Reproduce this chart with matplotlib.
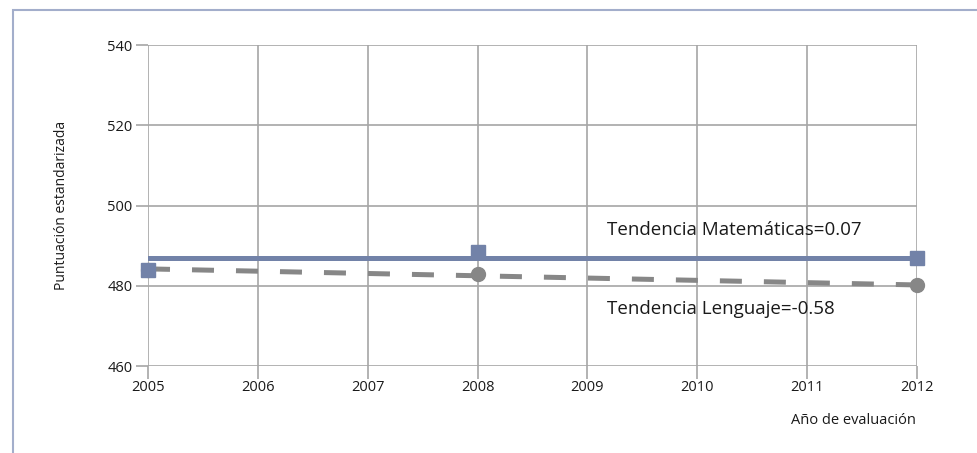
import matplotlib
matplotlib.use("Agg")
import matplotlib.pyplot as plt
from matplotlib.patches import Rectangle

plt.rcParams['font.family'] = ['Open Sans', 'DejaVu Sans']

years = [2005, 2006, 2007, 2008, 2009, 2010, 2011, 2012]
mat_years = [2005, 2008, 2012]
mat_values = [483.9, 488.5, 486.9]
len_years = [2005, 2008, 2012]
len_values = [483.9, 482.9, 480.3]
trend_years = [2005, 2012]
mat_trend = [487.0, 487.0]
len_trend = [484.2, 480.2]
mat_label = "Tendencia Matemáticas=0.07"
len_label = "Tendencia Lenguaje=-0.58"

mat_color = '#7282a8'
len_color = '#878787'
grid_color = '#a6a6a6'

fig = plt.figure(figsize=(9.78, 4.53), dpi=100)
# outer frame
fig.patches.append(Rectangle((13/978, -0.1), 1.2, (453-10)/453 + 0.1,
                             transform=fig.transFigure, fill=False,
                             edgecolor='#a3aecb', linewidth=1.5, clip_on=False))

ax = fig.add_axes([148/978, (453-366)/453, (917-148)/978, (366-45)/453])
ax.set_xlim(2005, 2012)
ax.set_ylim(460, 540)
ax.set_xticks(years)
ax.set_yticks([460, 480, 500, 520, 540])
ax.grid(True, color=grid_color, linewidth=1.2)
for s in ax.spines.values():
    s.set_visible(False)
ax.tick_params(axis='both', color=grid_color, length=9, width=1.2,
               labelsize=10.5, labelcolor='#1a1a1a')
ax.tick_params(axis='x', pad=1)
ax.tick_params(axis='y', pad=2)

ax.plot(trend_years, len_trend, color=len_color, linewidth=3.6,
        dashes=(4.4, 4.4), solid_capstyle='butt', zorder=3)
ax.plot(trend_years, mat_trend, color=mat_color, linewidth=3.6, zorder=3)
ax.plot(len_years, len_values, linestyle='none', marker='o', markersize=10,
        color=len_color, zorder=4, clip_on=False)
ax.plot(mat_years, mat_values, linestyle='none', marker='s', markersize=10,
        color=mat_color, zorder=5, clip_on=False)

ax.text(2009.18, 494.0, mat_label, fontsize=13.5, color='#1a1a1a', va='center', ha='left', zorder=6)
ax.text(2009.18, 474.3, len_label, fontsize=13.5, color='#1a1a1a', va='center', ha='left', zorder=6)

fig.text(62/978, 1 - 205/453, "Puntuación estandarizada", rotation=90,
         fontsize=10, color='#1a1a1a', ha='center', va='center')
fig.text(853/978, 1 - 421/453, "Año de evaluación", fontsize=10.5,
         color='#1a1a1a', ha='center', va='center')

fig.savefig("out.png", dpi=100)
